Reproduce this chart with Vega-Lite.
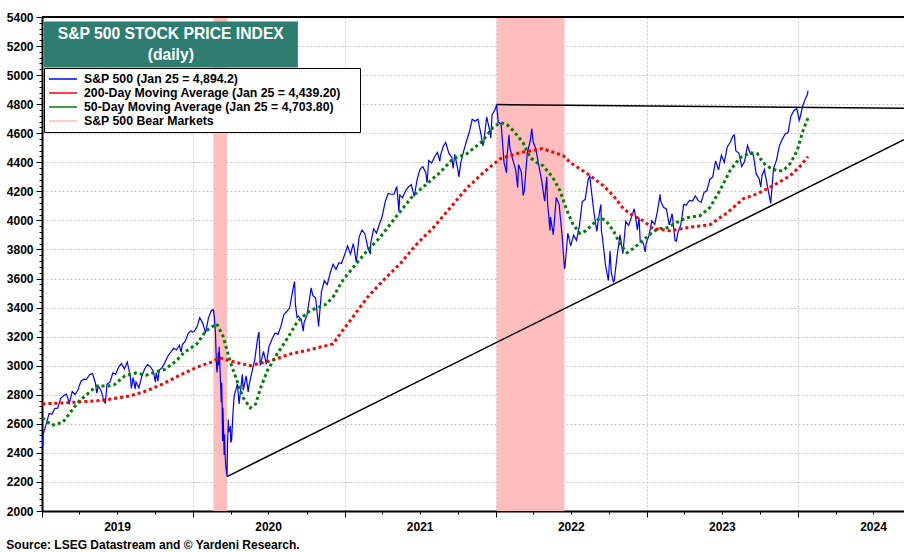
{
  "$schema": "https://vega.github.io/schema/vega-lite/v6.json",
  "width": 862,
  "height": 494,
  "autosize": "none",
  "padding": {"left": 42, "top": 17, "right": 0, "bottom": 41},
  "background": "white",
  "title": {"text": "Source: LSEG Datastream and © Yardeni Research.", "orient": "bottom", "anchor": "start", "fontSize": 12, "fontWeight": "bold", "font": "Liberation Sans", "color": "black", "offset": 8},
  "resolve": {"axis": {"y": "independent", "x": "independent"}},
  "config": {
    "view": {"stroke": null},
    "font": "Liberation Sans",
    "axis": {"labelFont": "Liberation Sans", "labelFontSize": 12, "labelFontWeight": "bold", "labelColor": "black", "domainColor": "black", "domainWidth": 2, "tickColor": "black", "tickWidth": 1, "gridColor": "#c8c8c8", "gridDash": [2, 2], "gridWidth": 1, "title": null, "labelOverlap": false}
  },
  "datasets": {
    "sp": [
      {"date":"2019-01-02","value":2510},{"date":"2019-01-03","value":2448},{"date":"2019-01-04","value":2532},{"date":"2019-01-11","value":2596},{"date":"2019-01-18","value":2671},{"date":"2019-01-25","value":2665},{"date":"2019-02-01","value":2707},{"date":"2019-02-08","value":2708},{"date":"2019-02-15","value":2776},{"date":"2019-02-22","value":2793},{"date":"2019-03-01","value":2804},{"date":"2019-03-08","value":2743},{"date":"2019-03-15","value":2822},{"date":"2019-03-22","value":2801},{"date":"2019-03-29","value":2834},{"date":"2019-04-05","value":2893},{"date":"2019-04-12","value":2907},{"date":"2019-04-18","value":2905},{"date":"2019-04-26","value":2940},{"date":"2019-05-03","value":2946},{"date":"2019-05-10","value":2881},{"date":"2019-05-13","value":2812},{"date":"2019-05-17","value":2860},{"date":"2019-05-24","value":2826},{"date":"2019-05-31","value":2752},{"date":"2019-06-03","value":2744},{"date":"2019-06-07","value":2873},{"date":"2019-06-14","value":2887},{"date":"2019-06-21","value":2950},{"date":"2019-06-28","value":2942},{"date":"2019-07-05","value":2990},{"date":"2019-07-12","value":3014},{"date":"2019-07-19","value":2977},{"date":"2019-07-26","value":3026},{"date":"2019-08-02","value":2932},{"date":"2019-08-05","value":2844},{"date":"2019-08-09","value":2919},{"date":"2019-08-14","value":2840},{"date":"2019-08-16","value":2889},{"date":"2019-08-23","value":2847},{"date":"2019-08-30","value":2926},{"date":"2019-09-06","value":2979},{"date":"2019-09-13","value":3007},{"date":"2019-09-20","value":2992},{"date":"2019-09-27","value":2962},{"date":"2019-10-02","value":2887},{"date":"2019-10-04","value":2952},{"date":"2019-10-08","value":2893},{"date":"2019-10-11","value":2970},{"date":"2019-10-18","value":2986},{"date":"2019-10-25","value":3023},{"date":"2019-11-01","value":3067},{"date":"2019-11-08","value":3093},{"date":"2019-11-15","value":3120},{"date":"2019-11-22","value":3110},{"date":"2019-11-29","value":3141},{"date":"2019-12-03","value":3093},{"date":"2019-12-06","value":3146},{"date":"2019-12-13","value":3169},{"date":"2019-12-20","value":3221},{"date":"2019-12-27","value":3240},{"date":"2019-12-31","value":3231},
      {"date":"2020-01-03","value":3235},{"date":"2020-01-10","value":3265},{"date":"2020-01-17","value":3330},{"date":"2020-01-24","value":3295},{"date":"2020-01-31","value":3226},{"date":"2020-02-07","value":3328},{"date":"2020-02-14","value":3380},{"date":"2020-02-19","value":3386},{"date":"2020-02-21","value":3338},{"date":"2020-02-24","value":3226},{"date":"2020-02-25","value":3128},{"date":"2020-02-27","value":2979},{"date":"2020-02-28","value":2954},{"date":"2020-03-02","value":3090},{"date":"2020-03-03","value":3003},{"date":"2020-03-04","value":3130},{"date":"2020-03-06","value":2972},{"date":"2020-03-09","value":2747},{"date":"2020-03-10","value":2882},{"date":"2020-03-11","value":2741},{"date":"2020-03-12","value":2481},{"date":"2020-03-13","value":2711},{"date":"2020-03-16","value":2386},{"date":"2020-03-17","value":2529},{"date":"2020-03-18","value":2398},{"date":"2020-03-20","value":2305},{"date":"2020-03-23","value":2237},{"date":"2020-03-24","value":2447},{"date":"2020-03-26","value":2630},{"date":"2020-03-27","value":2541},{"date":"2020-03-31","value":2585},{"date":"2020-04-01","value":2471},{"date":"2020-04-03","value":2489},{"date":"2020-04-06","value":2664},{"date":"2020-04-09","value":2790},{"date":"2020-04-17","value":2875},{"date":"2020-04-21","value":2737},{"date":"2020-04-29","value":2940},{"date":"2020-05-01","value":2831},{"date":"2020-05-08","value":2930},{"date":"2020-05-13","value":2820},{"date":"2020-05-15","value":2864},{"date":"2020-05-22","value":2955},{"date":"2020-05-29","value":3044},{"date":"2020-06-05","value":3194},{"date":"2020-06-08","value":3232},{"date":"2020-06-11","value":3002},{"date":"2020-06-19","value":3098},{"date":"2020-06-26","value":3009},{"date":"2020-07-02","value":3130},{"date":"2020-07-10","value":3185},{"date":"2020-07-17","value":3225},{"date":"2020-07-24","value":3216},{"date":"2020-07-31","value":3271},{"date":"2020-08-07","value":3351},{"date":"2020-08-14","value":3373},{"date":"2020-08-21","value":3397},{"date":"2020-08-28","value":3508},{"date":"2020-09-02","value":3580},{"date":"2020-09-04","value":3427},{"date":"2020-09-08","value":3332},{"date":"2020-09-11","value":3341},{"date":"2020-09-18","value":3319},{"date":"2020-09-23","value":3237},{"date":"2020-09-25","value":3298},{"date":"2020-10-02","value":3348},{"date":"2020-10-09","value":3477},{"date":"2020-10-12","value":3535},{"date":"2020-10-16","value":3484},{"date":"2020-10-23","value":3465},{"date":"2020-10-30","value":3270},{"date":"2020-11-06","value":3510},{"date":"2020-11-13","value":3585},{"date":"2020-11-20","value":3558},{"date":"2020-11-27","value":3638},{"date":"2020-12-04","value":3699},{"date":"2020-12-11","value":3663},{"date":"2020-12-18","value":3709},{"date":"2020-12-24","value":3703},{"date":"2020-12-31","value":3756},
      {"date":"2021-01-08","value":3825},{"date":"2021-01-15","value":3768},{"date":"2021-01-22","value":3841},{"date":"2021-01-29","value":3714},{"date":"2021-02-05","value":3887},{"date":"2021-02-12","value":3934},{"date":"2021-02-19","value":3907},{"date":"2021-02-26","value":3811},{"date":"2021-03-04","value":3768},{"date":"2021-03-05","value":3842},{"date":"2021-03-12","value":3943},{"date":"2021-03-19","value":3913},{"date":"2021-03-26","value":3975},{"date":"2021-04-01","value":4020},{"date":"2021-04-09","value":4129},{"date":"2021-04-16","value":4185},{"date":"2021-04-23","value":4180},{"date":"2021-04-30","value":4181},{"date":"2021-05-07","value":4233},{"date":"2021-05-12","value":4063},{"date":"2021-05-14","value":4174},{"date":"2021-05-21","value":4156},{"date":"2021-05-28","value":4204},{"date":"2021-06-04","value":4230},{"date":"2021-06-11","value":4247},{"date":"2021-06-18","value":4166},{"date":"2021-06-25","value":4281},{"date":"2021-07-02","value":4352},{"date":"2021-07-09","value":4370},{"date":"2021-07-16","value":4327},{"date":"2021-07-19","value":4259},{"date":"2021-07-23","value":4412},{"date":"2021-07-30","value":4395},{"date":"2021-08-06","value":4437},{"date":"2021-08-13","value":4468},{"date":"2021-08-19","value":4406},{"date":"2021-08-20","value":4442},{"date":"2021-08-27","value":4509},{"date":"2021-09-02","value":4537},{"date":"2021-09-10","value":4459},{"date":"2021-09-17","value":4433},{"date":"2021-09-20","value":4358},{"date":"2021-09-24","value":4455},{"date":"2021-10-01","value":4357},{"date":"2021-10-04","value":4300},{"date":"2021-10-08","value":4391},{"date":"2021-10-15","value":4471},{"date":"2021-10-22","value":4545},{"date":"2021-10-29","value":4605},{"date":"2021-11-05","value":4697},{"date":"2021-11-12","value":4683},{"date":"2021-11-19","value":4698},{"date":"2021-11-26","value":4595},{"date":"2021-12-01","value":4513},{"date":"2021-12-03","value":4538},{"date":"2021-12-10","value":4712},{"date":"2021-12-17","value":4621},{"date":"2021-12-20","value":4568},{"date":"2021-12-23","value":4726},{"date":"2021-12-31","value":4766},
      {"date":"2022-01-03","value":4797},{"date":"2022-01-07","value":4677},{"date":"2022-01-14","value":4663},{"date":"2022-01-21","value":4398},{"date":"2022-01-27","value":4327},{"date":"2022-01-28","value":4432},{"date":"2022-02-02","value":4589},{"date":"2022-02-04","value":4501},{"date":"2022-02-11","value":4419},{"date":"2022-02-18","value":4349},{"date":"2022-02-23","value":4226},{"date":"2022-02-25","value":4385},{"date":"2022-03-04","value":4329},{"date":"2022-03-08","value":4171},{"date":"2022-03-11","value":4204},{"date":"2022-03-18","value":4463},{"date":"2022-03-25","value":4543},{"date":"2022-03-29","value":4632},{"date":"2022-04-01","value":4546},{"date":"2022-04-08","value":4488},{"date":"2022-04-14","value":4393},{"date":"2022-04-22","value":4272},{"date":"2022-04-29","value":4132},{"date":"2022-05-04","value":4301},{"date":"2022-05-06","value":4123},{"date":"2022-05-12","value":3930},{"date":"2022-05-13","value":4024},{"date":"2022-05-20","value":3901},{"date":"2022-05-27","value":4158},{"date":"2022-06-03","value":4109},{"date":"2022-06-10","value":3901},{"date":"2022-06-16","value":3667},{"date":"2022-06-17","value":3675},{"date":"2022-06-24","value":3912},{"date":"2022-07-01","value":3825},{"date":"2022-07-08","value":3899},{"date":"2022-07-15","value":3863},{"date":"2022-07-22","value":3962},{"date":"2022-07-29","value":4130},{"date":"2022-08-05","value":4145},{"date":"2022-08-12","value":4280},{"date":"2022-08-16","value":4305},{"date":"2022-08-19","value":4228},{"date":"2022-08-26","value":4058},{"date":"2022-09-02","value":3924},{"date":"2022-09-09","value":4067},{"date":"2022-09-12","value":4110},{"date":"2022-09-13","value":3932},{"date":"2022-09-16","value":3873},{"date":"2022-09-23","value":3693},{"date":"2022-09-30","value":3586},{"date":"2022-10-04","value":3791},{"date":"2022-10-07","value":3640},{"date":"2022-10-12","value":3577},{"date":"2022-10-14","value":3583},{"date":"2022-10-21","value":3753},{"date":"2022-10-28","value":3901},{"date":"2022-11-04","value":3771},{"date":"2022-11-11","value":3993},{"date":"2022-11-18","value":3965},{"date":"2022-11-25","value":4026},{"date":"2022-12-01","value":4077},{"date":"2022-12-02","value":4072},{"date":"2022-12-09","value":3934},{"date":"2022-12-13","value":4019},{"date":"2022-12-16","value":3852},{"date":"2022-12-23","value":3845},{"date":"2022-12-28","value":3783},{"date":"2022-12-30","value":3840},
      {"date":"2023-01-06","value":3895},{"date":"2023-01-13","value":3999},{"date":"2023-01-20","value":3973},{"date":"2023-01-27","value":4071},{"date":"2023-02-02","value":4179},{"date":"2023-02-03","value":4136},{"date":"2023-02-10","value":4090},{"date":"2023-02-17","value":4079},{"date":"2023-02-24","value":3970},{"date":"2023-03-03","value":4046},{"date":"2023-03-10","value":3862},{"date":"2023-03-13","value":3856},{"date":"2023-03-17","value":3917},{"date":"2023-03-24","value":3971},{"date":"2023-03-31","value":4109},{"date":"2023-04-06","value":4105},{"date":"2023-04-14","value":4138},{"date":"2023-04-21","value":4133},{"date":"2023-04-28","value":4169},{"date":"2023-05-05","value":4136},{"date":"2023-05-12","value":4124},{"date":"2023-05-19","value":4192},{"date":"2023-05-26","value":4205},{"date":"2023-06-02","value":4282},{"date":"2023-06-09","value":4299},{"date":"2023-06-16","value":4410},{"date":"2023-06-23","value":4348},{"date":"2023-06-30","value":4450},{"date":"2023-07-07","value":4399},{"date":"2023-07-14","value":4505},{"date":"2023-07-21","value":4536},{"date":"2023-07-28","value":4582},{"date":"2023-07-31","value":4589},{"date":"2023-08-04","value":4478},{"date":"2023-08-11","value":4464},{"date":"2023-08-18","value":4370},{"date":"2023-08-25","value":4406},{"date":"2023-09-01","value":4516},{"date":"2023-09-08","value":4457},{"date":"2023-09-15","value":4450},{"date":"2023-09-22","value":4320},{"date":"2023-09-29","value":4288},{"date":"2023-10-03","value":4229},{"date":"2023-10-06","value":4309},{"date":"2023-10-12","value":4350},{"date":"2023-10-13","value":4327},{"date":"2023-10-20","value":4224},{"date":"2023-10-27","value":4117},{"date":"2023-11-03","value":4358},{"date":"2023-11-10","value":4415},{"date":"2023-11-17","value":4514},{"date":"2023-11-24","value":4559},{"date":"2023-12-01","value":4595},{"date":"2023-12-08","value":4604},{"date":"2023-12-15","value":4719},{"date":"2023-12-22","value":4755},{"date":"2023-12-29","value":4770},
      {"date":"2024-01-04","value":4688},{"date":"2024-01-05","value":4697},{"date":"2024-01-12","value":4784},{"date":"2024-01-19","value":4840},{"date":"2024-01-24","value":4868},{"date":"2024-01-25","value":4894}
    ],
    "ma200": [
      {"date":"2019-01-02","value":2737},{"date":"2019-02-20","value":2744},{"date":"2019-05-13","value":2758},{"date":"2019-06-21","value":2772},{"date":"2019-08-01","value":2792},{"date":"2019-09-11","value":2827},{"date":"2019-10-20","value":2875},{"date":"2019-11-30","value":2935},{"date":"2020-01-10","value":2990},{"date":"2020-02-10","value":3020},{"date":"2020-03-06","value":3054},{"date":"2020-03-30","value":3033},{"date":"2020-05-17","value":3000},{"date":"2020-07-05","value":3033},{"date":"2020-08-22","value":3080},{"date":"2020-10-09","value":3110},{"date":"2020-12-04","value":3150},{"date":"2020-12-21","value":3219},{"date":"2021-01-14","value":3309},{"date":"2021-02-24","value":3467},{"date":"2021-04-03","value":3585},{"date":"2021-05-15","value":3702},{"date":"2021-06-25","value":3840},{"date":"2021-08-03","value":3950},{"date":"2021-09-13","value":4087},{"date":"2021-10-24","value":4225},{"date":"2021-12-02","value":4329},{"date":"2022-01-12","value":4425},{"date":"2022-03-01","value":4466},{"date":"2022-04-23","value":4494},{"date":"2022-06-13","value":4446},{"date":"2022-06-30","value":4398},{"date":"2022-08-10","value":4322},{"date":"2022-09-18","value":4239},{"date":"2022-10-12","value":4170},{"date":"2022-11-05","value":4081},{"date":"2022-11-29","value":4032},{"date":"2022-12-23","value":3998},{"date":"2023-01-16","value":3943},{"date":"2023-02-26","value":3929},{"date":"2023-04-22","value":3956},{"date":"2023-06-02","value":3970},{"date":"2023-07-14","value":4053},{"date":"2023-08-22","value":4150},{"date":"2023-09-25","value":4184},{"date":"2023-11-02","value":4239},{"date":"2023-12-13","value":4308},{"date":"2024-01-05","value":4370},{"date":"2024-01-25","value":4439}
    ],
    "ma50": [
      {"date":"2019-01-02","value":2640},{"date":"2019-01-25","value":2590},{"date":"2019-02-20","value":2610},{"date":"2019-03-16","value":2700},{"date":"2019-04-02","value":2760},{"date":"2019-05-13","value":2860},{"date":"2019-06-10","value":2860},{"date":"2019-06-25","value":2870},{"date":"2019-07-20","value":2930},{"date":"2019-08-15","value":2950},{"date":"2019-09-10","value":2935},{"date":"2019-10-05","value":2960},{"date":"2019-10-25","value":2975},{"date":"2019-11-20","value":3030},{"date":"2019-12-10","value":3090},{"date":"2020-01-10","value":3150},{"date":"2020-02-01","value":3240},{"date":"2020-02-27","value":3288},{"date":"2020-03-13","value":3206},{"date":"2020-03-30","value":3033},{"date":"2020-04-16","value":2896},{"date":"2020-05-01","value":2779},{"date":"2020-05-18","value":2710},{"date":"2020-05-31","value":2737},{"date":"2020-06-12","value":2847},{"date":"2020-06-28","value":2964},{"date":"2020-07-22","value":3082},{"date":"2020-08-15","value":3185},{"date":"2020-09-08","value":3300},{"date":"2020-09-25","value":3345},{"date":"2020-10-10","value":3380},{"date":"2020-10-28","value":3400},{"date":"2020-11-15","value":3420},{"date":"2020-12-03","value":3468},{"date":"2020-12-28","value":3590},{"date":"2021-01-21","value":3674},{"date":"2021-02-24","value":3791},{"date":"2021-03-27","value":3881},{"date":"2021-05-07","value":4032},{"date":"2021-06-15","value":4170},{"date":"2021-07-19","value":4253},{"date":"2021-08-19","value":4329},{"date":"2021-09-20","value":4425},{"date":"2021-10-23","value":4459},{"date":"2021-11-28","value":4540},{"date":"2021-12-25","value":4639},{"date":"2022-01-12","value":4673},{"date":"2022-01-28","value":4660},{"date":"2022-02-12","value":4618},{"date":"2022-03-08","value":4535},{"date":"2022-03-25","value":4432},{"date":"2022-04-10","value":4398},{"date":"2022-04-25","value":4377},{"date":"2022-05-19","value":4294},{"date":"2022-06-05","value":4205},{"date":"2022-06-22","value":4067},{"date":"2022-07-06","value":3977},{"date":"2022-07-23","value":3910},{"date":"2022-08-07","value":3929},{"date":"2022-08-24","value":3977},{"date":"2022-09-10","value":4019},{"date":"2022-09-24","value":3998},{"date":"2022-10-12","value":3929},{"date":"2022-10-28","value":3839},{"date":"2022-11-14","value":3777},{"date":"2022-11-28","value":3805},{"date":"2022-12-16","value":3846},{"date":"2023-01-10","value":3908},{"date":"2023-01-28","value":3943},{"date":"2023-02-19","value":3950},{"date":"2023-03-22","value":3998},{"date":"2023-04-08","value":4019},{"date":"2023-05-09","value":4032},{"date":"2023-06-02","value":4088},{"date":"2023-06-26","value":4205},{"date":"2023-07-21","value":4343},{"date":"2023-08-14","value":4432},{"date":"2023-09-08","value":4466},{"date":"2023-09-25","value":4459},{"date":"2023-10-08","value":4398},{"date":"2023-10-25","value":4363},{"date":"2023-11-11","value":4342},{"date":"2023-11-26","value":4342},{"date":"2023-12-13","value":4391},{"date":"2023-12-30","value":4480},{"date":"2024-01-13","value":4618},{"date":"2024-01-25","value":4704}
    ],
    "bear": [
      {"start":"2020-02-19","end":"2020-03-23"},
      {"start":"2022-01-03","end":"2022-06-16"}
    ],
    "trend": [
      {"line":"a","date":"2020-03-23","value":2237},{"line":"a","date":"2024-09-13","value":4556},
      {"line":"b","date":"2022-01-03","value":4797},{"line":"b","date":"2024-09-13","value":4772}
    ]
  },
  "layer": [
    {
      "data": {"name": "bear"},
      "mark": {"type": "rect", "opacity": 1},
      "encoding": {
        "x": {"field": "start", "type": "temporal",
          "scale": {"domain": [{"year":2019,"month":1,"date":1},{"year":2024,"month":9,"date":13}], "nice": false},
          "axis": {
            "values": [{"year":2019,"month":1,"date":1},{"year":2020,"month":1,"date":1},{"year":2021,"month":1,"date":1},{"year":2022,"month":1,"date":1},{"year":2023,"month":1,"date":1},{"year":2024,"month":1,"date":1}],
            "format": "%Y",
            "labelOffset": 75,
            "labelOverlap": false, "labelBound": false, "labelFlush": false,
            "labelPadding": 4, "tickSize": 6,
            "grid": true, "title": null
          }
        },
        "x2": {"field": "end"},
        "color": {"datum": "S&P 500 Bear Markets",
          "scale": {"domain": ["S&P 500 (Jan 25 = 4,894.2)", "200-Day Moving Average (Jan 25 = 4,439.20)", "50-Day Moving Average (Jan 25 = 4,703.80)", "S&P 500 Bear Markets"], "range": ["#0000ff", "#ff0000", "#008000", "#ffbdbd"]},
          "legend": {
            "orient": "none", "legendX": 2, "legendY": 51,
            "title": "\u00a0", "titleOrient": "right", "titlePadding": 15, "titleFontSize": 11,
            "fillColor": "white", "strokeColor": "black", "padding": 4,
            "symbolType": "M-1,0H3.667", "symbolSize": 144, "symbolStrokeWidth": 1.5,
            "labelFont": "Liberation Sans", "labelFontSize": 12.3, "labelFontWeight": "bold", "labelColor": "black",
            "labelOffset": 22, "rowPadding": -1, "labelLimit": 400,
            "encode": {
              "legend": {"strokeWidth": {"value": 1.5}},
              "symbols": {
                "opacity": {"value": 1},
                "shape": {"value": {"expr": "(datum.index == 3 || indexof(datum.value, 'Bear') >= 0) ? 'M-1,-0.75H3.667V0.75H-1Z' : 'M-1,0H3.667'"}},
                "fill": {"value": {"expr": "(datum.index == 3 || indexof(datum.value, 'Bear') >= 0) ? '#ffbdbd' : 'transparent'"}},
                "strokeWidth": {"value": {"expr": "(datum.index == 3 || indexof(datum.value, 'Bear') >= 0) ? 0 : (indexof(datum.value, 'Moving') >= 0 ? 3 : 1.5)"}},
                "strokeDash": {"value": {"expr": "indexof(datum.value, 'Moving') >= 0 ? [3, 3] : [1, 0]"}}
              }
            }
          }
        }
      }
    },
    {
      "data": {"name": "sp"},
      "mark": {"type": "line", "strokeWidth": 1.2},
      "encoding": {
        "x": {"field": "date", "type": "temporal", "axis": null},
        "y": {"field": "value", "type": "quantitative",
          "scale": {"domain": [2000, 5400], "nice": false, "zero": false},
          "axis": {
            "values": [2000,2200,2400,2600,2800,3000,3200,3400,3600,3800,4000,4200,4400,4600,4800,5000,5200,5400],
            "format": "d", "tickSize": 6,
            "labelPadding": 3, "labelOverlap": false, "grid": true, "title": null
          }
        },
        "color": {"datum": "S&P 500 (Jan 25 = 4,894.2)"}
      }
    },
    {
      "data": {"name": "ma200"},
      "mark": {"type": "line", "strokeWidth": 3, "strokeDash": [3, 3]},
      "encoding": {
        "x": {"field": "date", "type": "temporal", "axis": null},
        "y": {"field": "value", "type": "quantitative", "axis": null},
        "color": {"datum": "200-Day Moving Average (Jan 25 = 4,439.20)"}
      }
    },
    {
      "data": {"name": "ma50"},
      "mark": {"type": "line", "strokeWidth": 3, "strokeDash": [3, 3]},
      "encoding": {
        "x": {"field": "date", "type": "temporal", "axis": null},
        "y": {"field": "value", "type": "quantitative", "axis": null},
        "color": {"datum": "50-Day Moving Average (Jan 25 = 4,703.80)"}
      }
    },
    {
      "data": {"name": "trend"},
      "mark": {"type": "line", "color": "black", "strokeWidth": 1.5},
      "encoding": {
        "x": {"field": "date", "type": "temporal",
          "axis": {"orient": "bottom", "values": [{"year":2019,"month":4,"date":1},{"year":2019,"month":7,"date":1},{"year":2019,"month":10,"date":1},{"year":2020,"month":4,"date":1},{"year":2020,"month":7,"date":1},{"year":2020,"month":10,"date":1},{"year":2021,"month":4,"date":1},{"year":2021,"month":7,"date":1},{"year":2021,"month":10,"date":1},{"year":2022,"month":4,"date":1},{"year":2022,"month":7,"date":1},{"year":2022,"month":10,"date":1},{"year":2023,"month":4,"date":1},{"year":2023,"month":7,"date":1},{"year":2023,"month":10,"date":1},{"year":2024,"month":4,"date":1},{"year":2024,"month":7,"date":1}],
            "labels": false, "grid": false, "domain": false, "tickSize": 3, "title": null}
        },
        "y": {"field": "value", "type": "quantitative",
          "axis": {"orient": "left", "values": [2000,2040,2080,2120,2160,2200,2240,2280,2320,2360,2400,2440,2480,2520,2560,2600,2640,2680,2720,2760,2800,2840,2880,2920,2960,3000,3040,3080,3120,3160,3200,3240,3280,3320,3360,3400,3440,3480,3520,3560,3600,3640,3680,3720,3760,3800,3840,3880,3920,3960,4000,4040,4080,4120,4160,4200,4240,4280,4320,4360,4400,4440,4480,4520,4560,4600,4640,4680,4720,4760,4800,4840,4880,4920,4960,5000,5040,5080,5120,5160,5200,5240,5280,5320,5360,5400],
            "labels": false, "grid": false, "domain": false, "tickSize": 3, "title": null}
        },
        "detail": {"field": "line"}
      }
    },
    {
      "data": {"values": [{}]},
      "mark": {"type": "rule", "color": "black", "strokeWidth": 2},
      "encoding": {"y": {"datum": 5400, "type": "quantitative", "axis": null}}
    },
    {
      "data": {"values": [{}]},
      "mark": {"type": "rect", "color": "#2e7d6e"},
      "encoding": {
        "x": {"datum": {"year":2019,"month":1,"date":6}, "type": "temporal", "axis": null},
        "x2": {"datum": {"year":2020,"month":9,"date":10}},
        "y": {"datum": 5369, "type": "quantitative", "axis": null},
        "y2": {"datum": 5052}
      }
    },
    {
      "data": {"values": [{}]},
      "mark": {"type": "text", "color": "white", "font": "Liberation Sans", "fontSize": 15.7, "fontWeight": "bold", "align": "center", "baseline": "middle"},
      "encoding": {
        "x": {"datum": {"year":2019,"month":11,"date":8}, "type": "temporal", "axis": null},
        "y": {"datum": 5284, "type": "quantitative", "axis": null},
        "text": {"value": "S&P 500 STOCK PRICE INDEX"}
      }
    },
    {
      "data": {"values": [{}]},
      "mark": {"type": "text", "color": "white", "font": "Liberation Sans", "fontSize": 15.7, "fontWeight": "bold", "align": "center", "baseline": "middle"},
      "encoding": {
        "x": {"datum": {"year":2019,"month":11,"date":8}, "type": "temporal", "axis": null},
        "y": {"datum": 5139, "type": "quantitative", "axis": null},
        "text": {"value": "(daily)"}
      }
    }
  ]
}
